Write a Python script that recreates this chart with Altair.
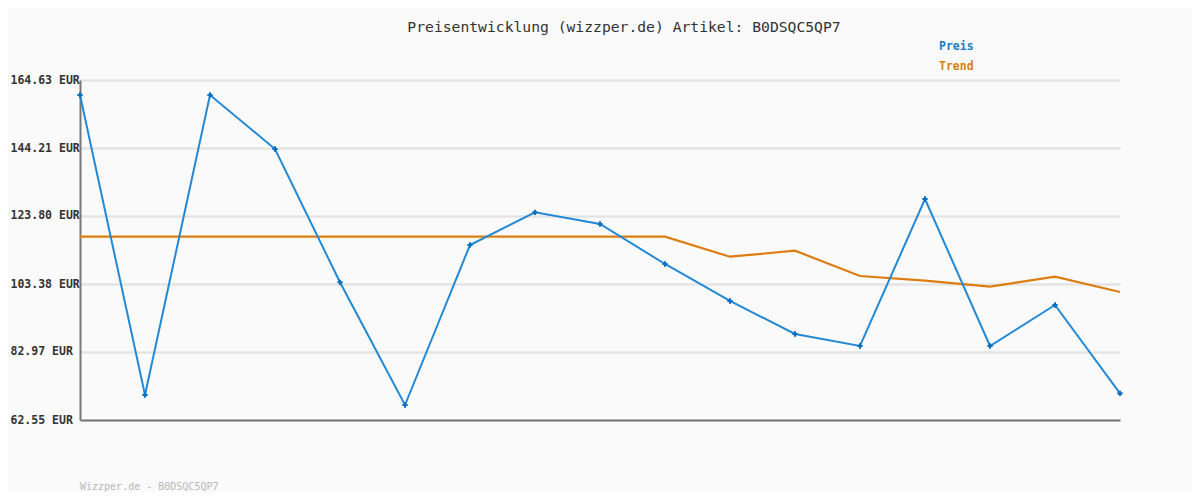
import altair as alt
import pandas as pd

idx = list(range(17))
preis = [160.13, 70.06, 160.13, 143.91, 103.89, 67.05, 115.09, 124.91, 121.40,
         109.39, 98.28, 88.37, 84.77, 128.90, 84.77, 97.08, 70.56]
trend = [117.58, 117.58, 117.58, 117.58, 117.58, 117.58, 117.58, 117.58, 117.58,
         117.58, 111.58, 113.38, 105.78, 104.37, 102.57, 105.57, 100.98]
y_ticks = [62.55, 82.97, 103.38, 123.80, 144.21, 164.63]
title_text = "Preisentwicklung (wizzper.de) Artikel: B0DSQC5QP7"
footer_text = "Wizzper.de - B0DSQC5QP7"
legend_labels = ["Preis", "Trend"]

df = pd.DataFrame({"i": idx, "preis": preis, "trend": trend})
one = pd.DataFrame({"a": [0]})

FONT = "DejaVu Sans Mono"
BLUE = "#2389d4"
BLUE_DARK = "#0b6fbf"
ORANGE = "#dd7d10"

xs = alt.X("i:Q", scale=alt.Scale(domain=[0, 16], nice=False, zero=False),
           axis=alt.Axis(labels=False, ticks=False, grid=False, title=None,
                         domainColor="#777777", domainWidth=2))
ys = alt.Scale(domain=[62.55, 164.63], nice=False, zero=False)
yaxis = alt.Axis(values=y_ticks, labelExpr="format(datum.value, '.2f') + ' EUR'",
                 title=None, ticks=False, tickSize=0, labelAlign="left", labelPadding=70,
                 labelFont=FONT, labelFontSize=11.5, labelFontWeight="bold",
                 labelColor="#333333", labelBaseline="middle",
                 grid=True, gridColor="#e4e4e4", gridWidth=2.5,
                 domainColor="#777777", domainWidth=2)

base = alt.Chart(df)
trend_line = base.mark_line(color=ORANGE, strokeWidth=2.2).encode(
    x=xs, y=alt.Y("trend:Q", scale=ys, axis=yaxis))
preis_line = base.mark_line(color=BLUE, strokeWidth=2).encode(
    x=xs, y=alt.Y("preis:Q", scale=ys))
preis_pts = base.mark_point(shape="cross", filled=True, color=BLUE_DARK, size=28, opacity=1).encode(
    x=xs, y=alt.Y("preis:Q", scale=ys))

title = alt.Chart(one).mark_text(font=FONT, fontSize=14.7, color="#333333",
                                 align="center", baseline="middle").encode(
    x=alt.value(544), y=alt.value(-52), text=alt.value(title_text))
leg1 = alt.Chart(one).mark_text(font=FONT, fontSize=11.5, fontWeight="bold", color="#1a7cc6",
                                align="left", baseline="middle").encode(
    x=alt.value(859), y=alt.value(-33), text=alt.value(legend_labels[0]))
leg2 = alt.Chart(one).mark_text(font=FONT, fontSize=11.5, fontWeight="bold", color="#dd7d10",
                                align="left", baseline="middle").encode(
    x=alt.value(859), y=alt.value(-13), text=alt.value(legend_labels[1]))
footer = alt.Chart(one).mark_text(font=FONT, fontSize=10, color="#b8b8b8",
                                  align="left", baseline="middle").encode(
    x=alt.value(0), y=alt.value(407), text=alt.value(footer_text))

chart = alt.layer(trend_line, preis_line, preis_pts, title, leg1, leg2, footer).properties(
    width=1040, height=340,
    autosize=alt.AutoSizeParams(type="none"),
    padding={"left": 72, "top": 72, "right": 72, "bottom": 72},
    background="#fafafa",
).configure_view(stroke=None)

chart.save("out.html", embed_options={"renderer": "svg", "actions": False})
